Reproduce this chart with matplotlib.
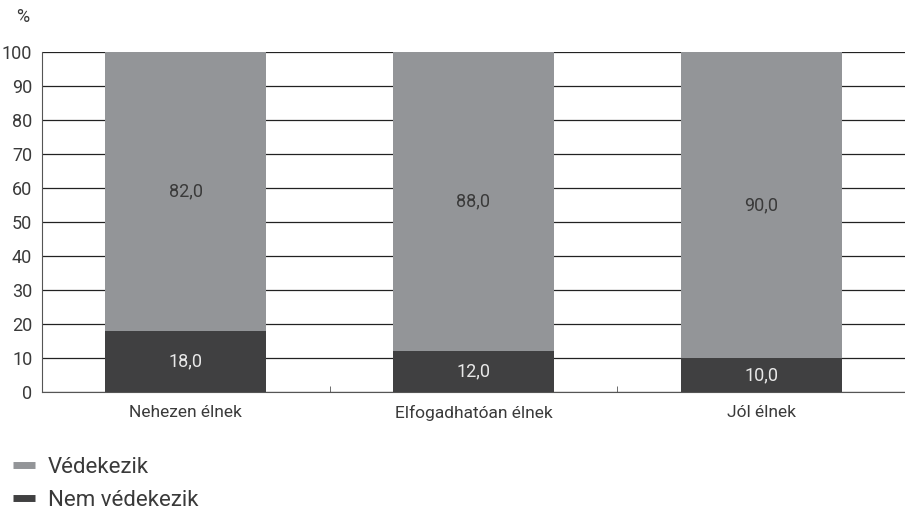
import matplotlib.pyplot as plt
import numpy as np

categories = ["Nehezen élnek", "Elfogadhatóan élnek", "Jól élnek"]
nem_vedekezik = [18.0, 12.0, 10.0]
vedekezik = [82.0, 88.0, 90.0]
yticks = list(range(0, 101, 10))

plt.rcParams['font.family'] = ['Roboto', 'DejaVu Sans']

GRAY = "#939598"
DARK = "#404041"
TEXT = "#3a3a3a"

fig = plt.figure(figsize=(9.05, 5.18), dpi=100)
ax = fig.add_axes([0.0464, 0.2432, 0.9536, 0.6564])

x = np.arange(len(categories))
b1 = ax.bar(x, nem_vedekezik, width=0.56, color=DARK, zorder=3)
b2 = ax.bar(x, vedekezik, width=0.56, bottom=nem_vedekezik, color=GRAY, zorder=3)

# értékcímkék a szegmensekben
for i in range(len(categories)):
    ax.text(x[i], nem_vedekezik[i] / 2, f"{nem_vedekezik[i]:.1f}".replace(".", ","),
            ha="center", va="center", color="#e8e8e8", fontsize=13, zorder=4)
    ax.text(x[i], nem_vedekezik[i] + vedekezik[i] / 2, f"{vedekezik[i]:.1f}".replace(".", ","),
            ha="center", va="center", color=TEXT, fontsize=13, zorder=4)

ax.set_xlim(-0.5, len(categories) - 0.5)
ax.set_ylim(0, 100)
ax.set_yticks(yticks)
ax.set_yticklabels([str(v) for v in yticks], fontsize=13, color=TEXT)
ax.set_xticks(x)
ax.set_xticklabels(categories, fontsize=12.5, color=TEXT)
ax.set_xticks(x[:-1] + 0.5, minor=True)
ax.tick_params(axis="x", which="major", length=0, pad=9)
ax.tick_params(axis="x", which="minor", length=4, direction="in", color="#555555")
ax.tick_params(axis="y", length=0, pad=7)

ax.grid(axis="y", color="#222222", linewidth=0.9, zorder=1)
for s in ["top", "right"]:
    ax.spines[s].set_visible(False)
ax.spines["left"].set_color("#555555")
ax.spines["bottom"].set_color("#555555")

fig.text(0.0254, 0.967, "%", fontsize=13, color=TEXT, ha="center", va="center")

fig.legend(handles=[plt.Line2D([], [], color=GRAY, lw=5, solid_capstyle="butt"),
                    plt.Line2D([], [], color=DARK, lw=5, solid_capstyle="butt")],
           labels=["Védekezik", "Nem védekezik"],
           loc="upper left", bbox_to_anchor=(0.004, 0.135),
           frameon=False, fontsize=16, handlelength=1.0, handletextpad=0.6,
           labelspacing=0.55, labelcolor=TEXT, borderaxespad=0, borderpad=0.4)

fig.savefig("out.png", dpi=100)
